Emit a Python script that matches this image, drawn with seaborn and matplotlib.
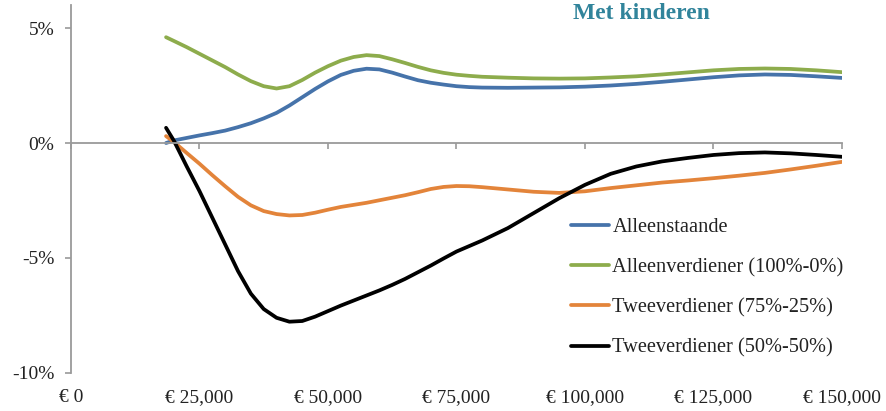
#!/usr/bin/env python3

from matplotlib import pyplot as plt
from matplotlib.ticker import FuncFormatter
import pandas as pd
import seaborn as sns


income = [
        18500, 20000, 22500, 25000, 27500, 30000, 32500, 35000, 37500,
        40000, 42500, 45000, 47500, 50000, 52500, 55000, 57500, 60000,
        62500, 65000, 67500, 70000, 72500, 75000, 77500, 80000,
        85000, 90000, 95000, 100000, 105000, 110000, 115000, 120000,
        125000, 130000, 135000, 140000, 145000, 150000,
        ]

alleenstaande = [
        0.0, 0.11, 0.22, 0.33, 0.43, 0.54, 0.69, 0.86, 1.07,
        1.31, 1.63, 1.99, 2.35, 2.68, 2.96, 3.14, 3.23, 3.2,
        3.06, 2.89, 2.73, 2.62, 2.54, 2.47, 2.43, 2.41,
        2.4, 2.41, 2.42, 2.45, 2.5, 2.57, 2.66, 2.76,
        2.86, 2.94, 2.98, 2.96, 2.9, 2.83,
        ]
alleenverdiener = [
        4.6, 4.44, 4.17, 3.88, 3.59, 3.3, 2.98, 2.69, 2.47,
        2.37, 2.47, 2.74, 3.06, 3.34, 3.58, 3.74, 3.82, 3.78,
        3.64, 3.48, 3.31, 3.16, 3.05, 2.97, 2.92, 2.88,
        2.84, 2.81, 2.8, 2.81, 2.85, 2.9, 2.98, 3.07,
        3.16, 3.22, 3.24, 3.22, 3.16, 3.08,
        ]
twee_75_25 = [
        0.3, 0.05, -0.43, -0.9, -1.4, -1.88, -2.34, -2.71, -2.96,
        -3.09, -3.15, -3.13, -3.03, -2.9, -2.78, -2.69, -2.6, -2.49,
        -2.38, -2.27, -2.14, -2.0, -1.91, -1.87, -1.88, -1.92,
        -2.02, -2.12, -2.17, -2.1, -1.96, -1.84, -1.72, -1.63,
        -1.53, -1.42, -1.3, -1.15, -0.99, -0.82,
        ]
twee_50_50 = [
        0.66, 0.11, -1.01, -2.09, -3.25, -4.41, -5.57, -6.55, -7.22,
        -7.6, -7.77, -7.74, -7.55, -7.31, -7.07, -6.85, -6.63, -6.41,
        -6.17, -5.91, -5.62, -5.33, -5.02, -4.72, -4.48, -4.24,
        -3.7, -3.05, -2.4, -1.82, -1.34, -1.02, -0.8, -0.65,
        -0.52, -0.44, -0.41, -0.45, -0.52, -0.6,
        ]

series = [
        ("Alleenstaande", alleenstaande),
        ("Alleenverdiener (100%-0%)", alleenverdiener),
        ("Tweeverdiener (75%-25%)", twee_75_25),
        ("Tweeverdiener (50%-50%)", twee_50_50),
        ]
colors = ["#4673AA", "#8DAC4C", "#E3843A", "#000000"]

xticks = [0, 25000, 50000, 75000, 100000, 125000, 150000]
xlabels = ["€ 0", "€ 25,000", "€ 50,000", "€ 75,000", "€ 100,000",
           "€ 125,000", "€ 150,000"]
yticks = [-10, -5, 0, 5]


def main():
    rows = []
    for name, vals in series:
        for x, y in zip(income, vals):
            rows.append({"inkomen": x, "verschil": y, "type": name})
    df = pd.DataFrame(rows)

    sns.set_theme(style="white")
    plt.rcParams["font.family"] = ["Liberation Serif", "DejaVu Serif"]

    fig = plt.figure(figsize=(8.86, 4.11), dpi=100)
    ax = fig.add_axes([0.0801, 0.0925, 0.8702, 0.8953])

    sns.lineplot(data=df, x="inkomen", y="verschil", hue="type",
                 hue_order=[s[0] for s in series], palette=colors,
                 linewidth=2.7, ax=ax)
    for line in ax.lines:
        line.set_solid_joinstyle("round")
        line.set_solid_capstyle("round")

    ax.set_xlim(0, 150000)
    ax.set_ylim(-10, 6)
    ax.set_xlabel("")
    ax.set_ylabel("")

    grey = "#9a9a9a"
    for s in ["top", "right"]:
        ax.spines[s].set_visible(False)
    ax.spines["bottom"].set_position(("data", 0))
    ax.spines["bottom"].set_color(grey)
    ax.spines["left"].set_color(grey)
    ax.spines["bottom"].set_linewidth(1.3)
    ax.spines["left"].set_linewidth(1.3)

    ax.set_yticks(yticks)
    ax.yaxis.set_major_formatter(FuncFormatter(lambda v, p: f"{v:.0f}%"))
    ax.tick_params(axis="y", left=True, direction="out", length=4,
                   width=1.2, color=grey, pad=8, labelsize=14,
                   labelcolor="#222222")

    ax.set_xticks(xticks)
    ax.tick_params(axis="x", bottom=True, labelbottom=False,
                   direction="out", length=4, width=1.2, color=grey)

    sec = ax.secondary_xaxis("bottom")
    sec.set_xticks(xticks, labels=xlabels)
    sec.tick_params(length=0, pad=11.5, labelsize=14, labelcolor="#222222")
    sec.spines["bottom"].set_visible(False)

    sns.move_legend(ax, "upper left", bbox_to_anchor=(0.649, 0.421),
                    frameon=False, title=None, fontsize=14.7,
                    handlelength=1.86, handletextpad=0.15, labelspacing=1.02,
                    borderpad=0, borderaxespad=0)
    for t in ax.get_legend().get_texts():
        t.set_color("#222222")

    fig.text(0.7235, 0.966, "Met kinderen", ha="center", va="center",
             fontsize=17, fontweight="bold", color="#31849B")

    plt.savefig("out.png", dpi=100)


if __name__ == "__main__":
    main()
